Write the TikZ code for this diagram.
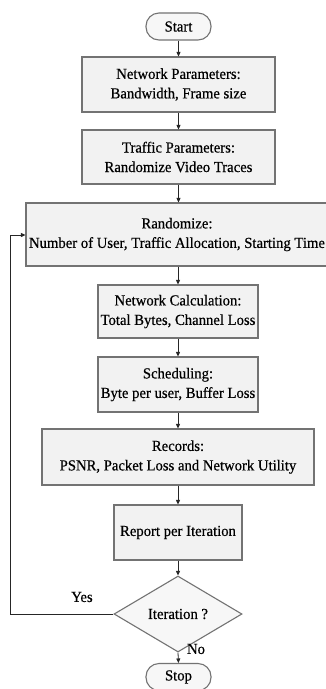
\documentclass[tikz,border=0pt]{standalone}
\usepackage{fontspec}
\setmainfont[FakeBold=0.5,FakeStretch=0.96]{Liberation Serif}
\usetikzlibrary{shapes.geometric,arrows.meta}
\begin{document}
\begin{tikzpicture}[x=1pt,y=-1pt,
  font=\fontsize{15.3}{19.5}\selectfont,
  procbox/.style={draw=black!55, line width=1.1pt, fill=black!5, align=center, inner sep=0pt},
  term/.style={draw=black!55, line width=1.1pt, fill=black!3, rounded corners=13pt, minimum width=65pt, minimum height=27pt, inner sep=0pt},
  decide/.style={draw=black!55, line width=1.1pt, fill=black!3, diamond, minimum width=128pt, minimum height=76pt, inner sep=0pt, aspect=1.68},
  conn/.style={draw=black!85, line width=0.8pt, -{Triangle[length=4.5pt,width=4pt]}},
  lbl/.style={inner sep=0pt}
]
\useasboundingbox (0,0) rectangle (326,689);
\fill[white] (0,0) rectangle (326,689);
\node[term] (start) at (178.5,26.5) {Start};
\node[procbox, minimum width=193pt, minimum height=55pt] (b1) at (178.5,84.5) {Network Parameters:\\Bandwidth, Frame size};
\node[procbox, minimum width=193pt, minimum height=54pt] (b2) at (178.5,157) {Traffic Parameters:\\Randomize Video Traces};
\node[procbox, minimum width=302pt, minimum height=63pt] (b3) at (177,234.5) {Randomize:\\Number of User, Traffic Allocation, Starting Time};
\node[procbox, minimum width=160pt, minimum height=53pt] (b4) at (178,311.5) {Network Calculation:\\Total Bytes, Channel Loss};
\node[procbox, minimum width=160pt, minimum height=55pt] (b5) at (178,384.5) {Scheduling:\\Byte per user, Buffer Loss};
\node[procbox, minimum width=272pt, minimum height=56pt] (b6) at (178,457) {Records:\\PSNR, Packet Loss and Network Utility};
\node[procbox, minimum width=128pt, minimum height=55pt] (b7) at (178,532.5) {Report per Iteration};
\node[decide] (dec) at (178,614) {Iteration ?};
\node[term] (stop) at (178.5,677) {Stop};
\coordinate (lb) at (10,614);
\coordinate (lt) at (10,235);
\draw[conn] (start.south) -- (b1.north);
\draw[conn] (b1.south) -- (b2.north);
\draw[conn] (b2.south) -- (b2.south |- b3.north);
\draw[conn] (b4.north |- b3.south) -- (b4.north);
\draw[conn] (b4.south) -- (b5.north);
\draw[conn] (b5.south) -- (b6.north);
\draw[conn] (b6.south) -- (b7.north);
\draw[conn] (b7.south) -- (dec.north);
\draw[conn] (dec.south) -- (stop.north);
\draw[conn] (dec.west) -- (lb) -- (lt) -- (b3.west |- lt);
\node[lbl] (yes) at (82,597) {Yes};
\node[lbl] (no) at (196,649) {No};
\end{tikzpicture}
\end{document}
